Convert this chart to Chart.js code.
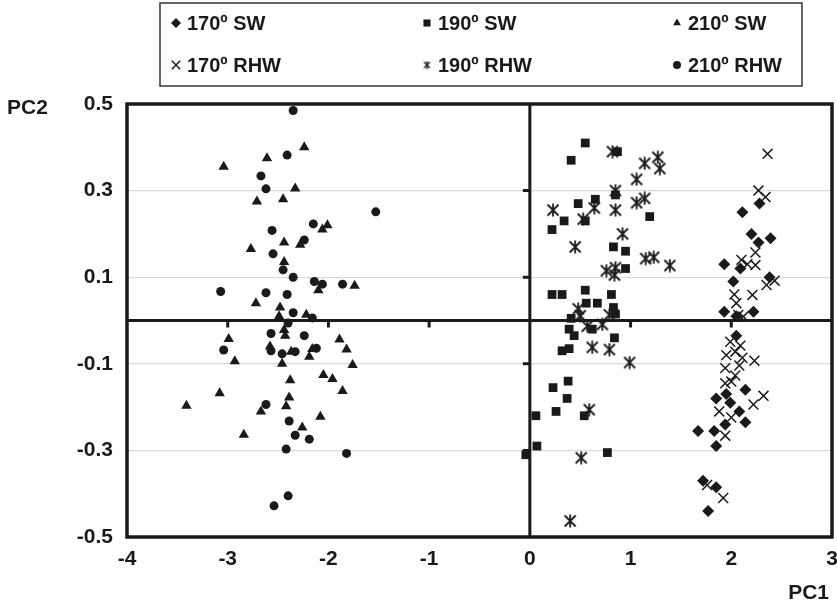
<!DOCTYPE html>
<html>
<head>
<meta charset="utf-8">
<script src="https://cdn.jsdelivr.net/npm/chart.js@4"></script>
<style>
  body { margin: 0; background: #fff; }
  #wrap { width: 837px; height: 605px; }
</style>
</head>
<body>
<div id="wrap"><canvas id="pcaChart" width="837" height="605"></canvas></div>
<script>
// tick labels
const xTicks = [-4, -3, -2, -1, 0, 1, 2, 3];
const yTicks = [-0.5, -0.3, -0.1, 0.1, 0.3, 0.5];

const seriesNames = ['170º SW', '190º SW', '210º SW', '170º RHW', '190º RHW', '210º RHW'];

// [PC1, PC2]
const sw170 = [
    [2.28, 0.27], [2.11, 0.25], [2.20, 0.20], [2.27, 0.18], [2.39, 0.19], [1.93, 0.13], [2.09, 0.12],
    [2.02, 0.09], [2.38, 0.10], [1.93, 0.02], [2.22, 0.02], [2.05, 0.01], [2.05, -0.035], [2.14, -0.16],
    [1.85, -0.18], [1.95, -0.17], [1.99, -0.19], [2.08, -0.21], [2.14, -0.235], [1.94, -0.24],
    [1.67, -0.255], [1.83, -0.255], [1.85, -0.29], [1.72, -0.37], [1.85, -0.385], [1.77, -0.44]
];
const sw190 = [
    [0.55, 0.41], [0.41, 0.37], [0.87, 0.39], [0.48, 0.27], [0.65, 0.28], [0.85, 0.29], [0.34, 0.23],
    [0.22, 0.21], [0.55, 0.23], [1.19, 0.24], [0.83, 0.17], [0.95, 0.16], [0.95, 0.12], [0.22, 0.06],
    [0.32, 0.06], [0.55, 0.07], [0.56, 0.04], [0.67, 0.04], [0.81, 0.06], [0.83, 0.03], [0.85, 0.015],
    [0.41, 0.005], [0.39, -0.02], [0.44, -0.035], [0.62, -0.02], [0.84, -0.04], [0.32, -0.07],
    [0.39, -0.065], [0.38, -0.14], [0.23, -0.155], [0.37, -0.18], [0.26, -0.21], [0.54, -0.22],
    [0.06, -0.22], [0.07, -0.29], [-0.04, -0.31], [0.77, -0.305]
];
const sw210 = [
    [-2.24, 0.40], [-2.61, 0.375], [-3.04, 0.355], [-2.33, 0.305], [-2.71, 0.275], [-2.45, 0.28],
    [-2.01, 0.22], [-2.06, 0.21], [-2.28, 0.175], [-2.44, 0.18], [-2.77, 0.165], [-2.44, 0.135],
    [-2.10, 0.07], [-1.74, 0.08], [-2.72, 0.04], [-2.48, 0.03], [-2.49, 0.01], [-2.22, 0.013],
    [-2.44, -0.022], [-2.43, -0.035], [-2.99, -0.043], [-1.89, -0.044], [-2.58, -0.06], [-2.37, -0.072],
    [-2.16, -0.066], [-2.19, -0.084], [-1.82, -0.067], [-2.93, -0.094], [-2.46, -0.10], [-1.76, -0.103],
    [-2.05, -0.126], [-1.96, -0.135], [-2.38, -0.138], [-3.08, -0.168], [-1.86, -0.163], [-2.39, -0.178],
    [-3.41, -0.197], [-2.67, -0.21], [-2.42, -0.198], [-2.08, -0.222], [-2.26, -0.247], [-2.84, -0.264]
];
const rhw170 = [
    [2.36, 0.385], [2.27, 0.30], [2.34, 0.285], [2.10, 0.14], [2.24, 0.157], [2.24, 0.128], [2.16, 0.13],
    [2.35, 0.082], [2.43, 0.092], [2.03, 0.06], [2.05, 0.04], [2.21, 0.059], [2.07, 0.013], [2.12, 0.009],
    [1.99, -0.049], [2.09, -0.058], [1.95, -0.08], [2.04, -0.072], [2.11, -0.086], [2.23, -0.093],
    [1.94, -0.11], [2.08, -0.104], [2.04, -0.127], [1.94, -0.145], [2.0, -0.141], [2.32, -0.174],
    [2.22, -0.194], [1.88, -0.21], [2.0, -0.224], [1.94, -0.266], [1.76, -0.38], [1.92, -0.41]
];
const rhw190 = [
    [0.82, 0.39], [1.27, 0.377], [1.14, 0.363], [1.29, 0.351], [1.06, 0.326], [0.85, 0.30], [1.06, 0.272],
    [1.14, 0.282], [0.23, 0.255], [0.64, 0.26], [0.85, 0.255], [0.53, 0.234], [0.92, 0.20], [0.45, 0.17],
    [1.15, 0.143], [1.23, 0.146], [1.39, 0.127], [0.76, 0.115], [0.85, 0.122], [0.84, 0.105], [0.48, 0.027],
    [0.50, 0.011], [0.79, 0.013], [0.57, -0.013], [0.72, -0.009], [0.62, -0.062], [0.79, -0.067],
    [0.99, -0.097], [0.59, -0.206], [0.51, -0.317], [0.40, -0.463]
];
const rhw210 = [
    [-2.35, 0.485], [-2.41, 0.382], [-2.67, 0.334], [-2.62, 0.304], [-1.53, 0.251], [-2.15, 0.223],
    [-2.56, 0.208], [-2.24, 0.186], [-2.55, 0.154], [-2.45, 0.117], [-2.35, 0.10], [-2.14, 0.09],
    [-2.06, 0.084], [-1.86, 0.084], [-3.07, 0.067], [-2.62, 0.064], [-2.41, 0.06], [-2.35, 0.018],
    [-2.16, 0.006], [-2.40, -0.006], [-2.57, -0.03], [-2.24, -0.035], [-3.04, -0.068], [-2.57, -0.07],
    [-2.46, -0.077], [-2.33, -0.072], [-2.12, -0.064], [-2.62, -0.194], [-2.39, -0.232], [-2.33, -0.265],
    [-2.19, -0.274], [-2.42, -0.297], [-1.82, -0.307], [-2.40, -0.405], [-2.54, -0.428]
];

const INK = '#1a1a1a';
const FONT = 'Liberation Sans';

// x with a vertical bar through it, used for 190º RHW
function makeAsterisk(size, lw) {
    const c = document.createElement('canvas');
    c.width = size;
    c.height = size;
    const g = c.getContext('2d');
    g.strokeStyle = INK;
    g.lineWidth = lw;
    const m = 1.5, h = size / 2;
    g.beginPath();
    g.moveTo(m, m); g.lineTo(size - m, size - m);
    g.moveTo(size - m, m); g.lineTo(m, size - m);
    g.moveTo(h, 0.5); g.lineTo(h, size - 0.5);
    g.stroke();
    return c;
}
const asteriskBig = makeAsterisk(14, 1.8);
const asteriskSmall = makeAsterisk(9, 1.3);

function toPoints(arr) {
    return arr.map(p => ({ x: p[0], y: p[1] }));
}

const styles = [
    { pointStyle: 'rectRot', radius: 6, legendRadius: 5, borderWidth: 0 },
    { pointStyle: 'rect', radius: 6.2, legendRadius: 5, borderWidth: 0 },
    { pointStyle: 'triangle', radius: 6, legendRadius: 4.5, borderWidth: 0 },
    { pointStyle: 'crossRot', radius: 7, legendRadius: 6, borderWidth: 1.5 },
    { pointStyle: asteriskBig, legendStyle: asteriskSmall, radius: 6, legendRadius: 5, borderWidth: 1.5 },
    { pointStyle: 'circle', radius: 4.5, legendRadius: 4, borderWidth: 0 }
];
const allSeries = [sw170, sw190, sw210, rhw170, rhw190, rhw210];

const datasets = allSeries.map((s, i) => ({
    label: seriesNames[i],
    data: toPoints(s),
    showLine: false,
    pointStyle: styles[i].pointStyle,
    pointRadius: styles[i].radius,
    pointHoverRadius: styles[i].radius,
    pointBorderWidth: styles[i].borderWidth,
    pointBackgroundColor: INK,
    pointBorderColor: INK
}));

const framePlugin = {
    id: 'frame',
    beforeDatasetsDraw(chart) {
        const { ctx, chartArea: a, scales: { x, y } } = chart;
        const x0 = x.getPixelForValue(0);
        const y0 = y.getPixelForValue(0);
        ctx.save();
        ctx.strokeStyle = INK;
        ctx.lineWidth = 3;
        ctx.beginPath();
        ctx.moveTo(a.left, y0); ctx.lineTo(a.right, y0);
        ctx.moveTo(x0, a.top); ctx.lineTo(x0, a.bottom);
        ctx.stroke();
        // small tick marks on the zero axes
        ctx.beginPath();
        xTicks.forEach(v => {
            if (v === 0 || v === xTicks[0] || v === xTicks[xTicks.length - 1]) return;
            const px = x.getPixelForValue(v);
            ctx.moveTo(px, y0); ctx.lineTo(px, y0 + 7);
        });
        yTicks.forEach(v => {
            if (Math.abs(v) === 0.5) return;
            const py = y.getPixelForValue(v);
            ctx.moveTo(x0, py); ctx.lineTo(x0 - 7, py);
        });
        ctx.stroke();
        ctx.restore();
    },
    afterDatasetsDraw(chart) {
        const { ctx, chartArea: a } = chart;
        ctx.save();
        ctx.strokeStyle = INK;
        ctx.lineWidth = 3.5;
        ctx.strokeRect(a.left, a.top, a.right - a.left, a.bottom - a.top);

        // axis names
        ctx.fillStyle = INK;
        ctx.font = 'bold 21px "' + FONT + '"';
        ctx.textBaseline = 'middle';
        ctx.textAlign = 'left';
        ctx.fillText('PC2', 7, 108);
        ctx.textAlign = 'right';
        ctx.fillText('PC1', 829, 593);

        // legend box
        ctx.lineWidth = 1.5;
        ctx.strokeStyle = '#333';
        ctx.strokeRect(160, 3, 642, 83);
        ctx.font = 'bold 20px "' + FONT + '"';
        ctx.textAlign = 'left';
        const colX = [176, 427, 677];
        const rowY = [23, 65];
        chart.data.datasets.forEach((ds, i) => {
            const cx = colX[i % 3];
            const cy = rowY[Math.floor(i / 3)];
            ctx.fillStyle = INK;
            ctx.strokeStyle = INK;
            ctx.lineWidth = styles[i].borderWidth || 1;
            Chart.helpers.drawPoint(ctx, {
                pointStyle: styles[i].legendStyle || styles[i].pointStyle,
                radius: styles[i].legendRadius,
                borderWidth: styles[i].borderWidth,
                rotation: 0
            }, cx, cy);
            ctx.fillStyle = INK;
            ctx.fillText(ds.label, cx + 11, cy + 1);
        });
        ctx.restore();
    }
};

const tickFont = { family: FONT, weight: 'bold', size: 21 };

new Chart(document.getElementById('pcaChart'), {
    type: 'scatter',
    data: { datasets: datasets },
    options: {
        responsive: false,
        animation: false,
        layout: { autoPadding: false, padding: { left: 0, right: 5, top: 104, bottom: 0 } },
        plugins: { legend: { display: false }, tooltip: { enabled: false } },
        scales: {
            x: {
                type: 'linear',
                min: -4,
                max: 3,
                afterBuildTicks: s => { s.ticks = xTicks.map(v => ({ value: v })); },
                afterFit: s => { s.height = 68; s.paddingLeft = 0; s.paddingRight = 0; },
                grid: { display: false, drawTicks: false },
                border: { display: false },
                ticks: { font: tickFont, color: INK, padding: 10, maxRotation: 0, callback: v => String(v) }
            },
            y: {
                type: 'linear',
                min: -0.5,
                max: 0.5,
                afterBuildTicks: s => { s.ticks = yTicks.map(v => ({ value: v })); },
                afterFit: s => { s.width = 127; s.paddingTop = 0; s.paddingBottom = 0; },
                grid: { color: '#d9d9d9', lineWidth: 1.2, drawTicks: false },
                border: { display: false },
                ticks: { font: tickFont, color: INK, padding: 14, callback: v => v.toFixed(1) }
            }
        }
    },
    plugins: [framePlugin]
});
</script>
</body>
</html>
